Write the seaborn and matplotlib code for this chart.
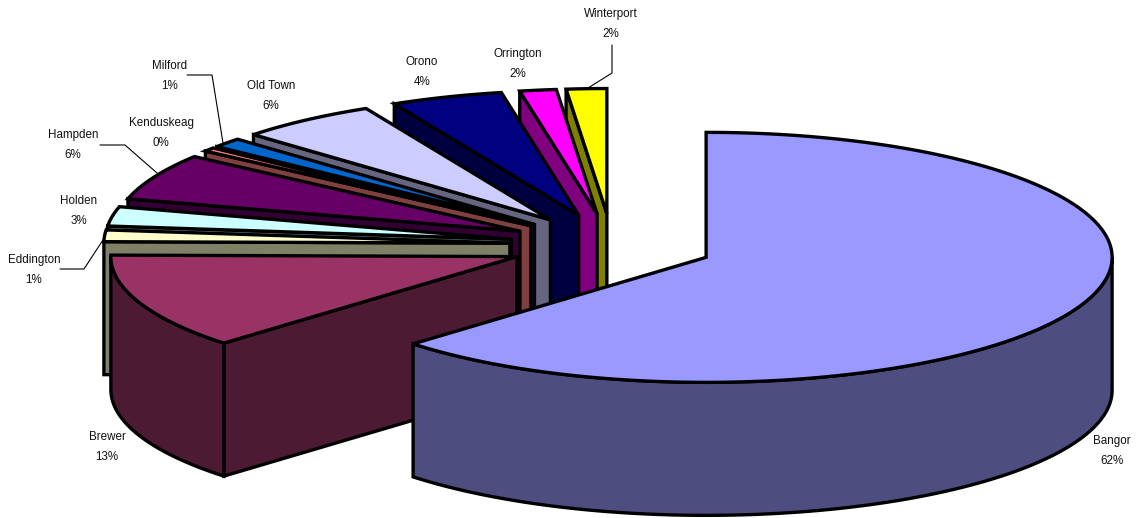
import numpy as np
import matplotlib
matplotlib.use("Agg")
import matplotlib.pyplot as plt
import seaborn as sns

towns = ["Bangor", "Brewer", "Eddington", "Holden", "Hampden", "Kenduskeag",
         "Milford", "Old Town", "Orono", "Orrington", "Winterport"]
shares = [62.8, 12.35, 1.5, 2.5, 6.0, 0.5, 1.25, 5.55, 4.45, 1.45, 1.6]
percent_labels = ["62%", "13%", "1%", "3%", "6%", "0%", "1%", "6%", "4%", "2%", "2%"]
top_colors = ["#9999FF", "#993366", "#FFFFCC", "#CCFFFF", "#660066", "#FF8080",
              "#0066CC", "#CCCCFF", "#000080", "#FF00FF", "#FFFF00"]
label_xy = {"Bangor": (1112, 451), "Brewer": (107, 447), "Eddington": (34, 270),
            "Holden": (79, 211), "Hampden": (73, 145), "Kenduskeag": (161, 133),
            "Milford": (170, 76), "Old Town": (271, 96), "Orono": (422, 72),
            "Orrington": (518, 64), "Winterport": (611, 24)}
leaders = [[(187, 75), (212, 75), (223, 143)],
           [(100, 145), (125, 145), (157, 173)],
           [(60, 269), (84, 269), (103, 240)],
           [(612, 45), (612, 73), (588, 88)]]

sns.set_theme(style="white")
plt.rcParams["font.family"] = ["Liberation Sans", "DejaVu Sans"]
palette = sns.color_palette(top_colors)

CX, CY, RX, RY, DEPTH, EXPLODE = 612, 245, 406, 125, 133, 0.252
LW = 2.4

fig, ax = plt.subplots(figsize=(11.37, 5.18), dpi=100)
fig.subplots_adjust(0, 0, 1, 1)
ax.set_xlim(0, 1137)
ax.set_ylim(518, 0)
ax.axis("off")


def point(ox, oy, deg):
    a = np.radians(deg)
    return ox + RX * np.sin(a), oy - RY * np.cos(a)


def face(xs, ys, color, z):
    ax.fill(xs, ys, facecolor=color, edgecolor="black", linewidth=LW,
            joinstyle="miter", zorder=z)


edges = np.concatenate([[0], np.cumsum(shares) / np.sum(shares) * 360])
draw_order = list(range(1, len(towns)))[::-1] + [0]
for z, i in enumerate(draw_order):
    a0, a1 = edges[i], edges[i + 1]
    mid = np.radians((a0 + a1) / 2)
    ox = CX + EXPLODE * RX * np.sin(mid)
    oy = CY - EXPLODE * RY * np.cos(mid)
    col = np.array(palette[i])
    wall = tuple(col * 0.5)
    base = z * 10

    # radial walls that face the viewer
    for a, visible in ((a0, np.sin(np.radians(a0)) < -1e-6),
                       (a1, np.sin(np.radians(a1)) > 1e-6)):
        if visible:
            px, py = point(ox, oy, a)
            face([ox, px, px, ox], [oy, py, py + DEPTH, oy + DEPTH], wall, base)
    # outer wall: front part of the rim only
    lo, hi = max(a0, 90), min(a1, 270)
    if hi > lo:
        t = np.linspace(lo, hi, 120)
        px, py = point(ox, oy, t)
        face(np.r_[px, px[::-1]], np.r_[py, py[::-1] + DEPTH], wall, base + 1)
    # top surface
    t = np.linspace(a0, a1, max(int((a1 - a0) * 3), 4))
    px, py = point(ox, oy, t)
    face(np.r_[ox, px], np.r_[oy, py], col, base + 2)

for town, pct in zip(towns, percent_labels):
    x, y = label_xy[town]
    ax.text(x, y, f"{town}\n{pct}", ha="center", va="center",
            fontsize=8.4, color="#111111", linespacing=1.85, zorder=500)

for path in leaders:
    xs, ys = zip(*path)
    ax.plot(xs, ys, color="black", linewidth=0.8, zorder=400)

fig.savefig("out.png", dpi=100)
